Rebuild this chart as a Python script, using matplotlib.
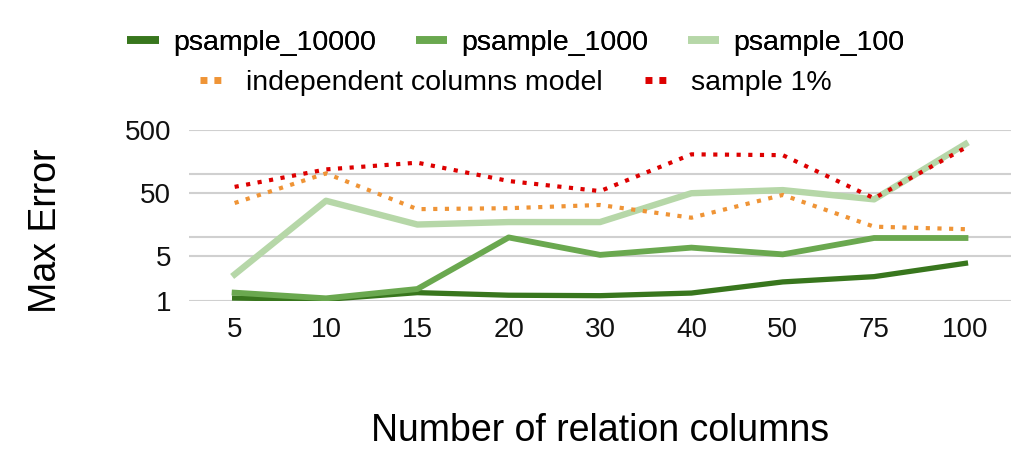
import matplotlib.pyplot as plt

plt.rcParams['font.family'] = ['Liberation Sans', 'DejaVu Sans']

# number of relation columns (categories on the x axis)
columns = ['5', '10', '15', '20', '30', '40', '50', '75', '100']

# max error per method
psample_10000 = [1.1, 1.05, 1.34, 1.22, 1.2, 1.32, 1.98, 2.4, 3.9]
psample_1000 = [1.34, 1.09, 1.53, 10, 5.3, 6.9, 5.4, 9.8, 9.8]
psample_100 = [2.6, 38, 16, 17.5, 17.5, 50, 56, 40, 300]
indep_cols = [35, 103, 28, 29, 32.6, 20.5, 47, 14.8, 13.5]
sample_1pct = [63, 119, 152, 78, 54, 206, 200, 41.6, 262]

y_ticks = [1, 5, 50, 500]
y_grid = [1, 5, 10, 50, 100, 500]

fig = plt.figure(figsize=(10.36, 4.73), dpi=100)
ax = fig.add_axes([0.1824, 0.3643, 0.7936, 0.3609])

x = range(len(columns))
ax.plot(x, psample_10000, color='#38761d', lw=3.8, label='psample_10000')
ax.plot(x, psample_1000, color='#6aa84f', lw=4.2, label='psample_1000')
ax.plot(x, psample_100, color='#b6d7a8', lw=4.6, label='psample_100')
ax.plot(x, indep_cols, color='#ef9436', lw=3.0, linestyle=(0, (1, 1.8)),
        dash_capstyle='butt', label='independent columns model')
ax.plot(x, sample_1pct, color='#dd0000', lw=3.0, linestyle=(0, (1, 1.8)),
        dash_capstyle='butt', label='sample 1%')

ax.set_yscale('log')
ax.set_ylim(1, 500)
ax.set_xlim(-0.5, len(columns) - 0.5)
ax.set_yticks(y_ticks)
ax.set_yticklabels([str(t) for t in y_ticks])
ax.minorticks_off()
ax.set_xticks(list(x))
ax.set_xticklabels(columns)
for g in y_grid:
    ax.axhline(g, color='#d0d0d0', lw=1.5, zorder=0)
for s in ax.spines.values():
    s.set_visible(False)
ax.tick_params(axis='both', length=0, labelsize=20, colors='#111111')
ax.tick_params(axis='x', pad=12)
ax.tick_params(axis='y', pad=13)

fig.text(0.044, 0.512, 'Max Error', rotation=90, fontsize=27,
         ha='center', va='center')
fig.text(0.579, 0.089, 'Number of relation columns', fontsize=27,
         ha='center', va='center')

handles, labels = ax.get_legend_handles_labels()
leg1 = fig.legend(handles[:3], labels[:3], loc='center', ncol=3,
                  bbox_to_anchor=(0.498, 0.909), frameon=False, fontsize=20.5,
                  handlelength=1.1, columnspacing=1.4, handletextpad=0.5,
                  borderpad=0, borderaxespad=0)
leg2 = fig.legend(handles[3:], labels[3:], loc='center', ncol=2,
                  bbox_to_anchor=(0.498, 0.825), frameon=False, fontsize=20.5,
                  handlelength=0.85, columnspacing=1.5, handletextpad=0.75,
                  borderpad=0, borderaxespad=0)
fig.add_artist(leg1)

# thicker, squarer legend keys like the original
for ln in leg1.get_lines():
    ln.set_linewidth(5.5)
    ln.set_solid_capstyle('butt')
for ln in leg2.get_lines():
    ln.set_linewidth(5)
    ln.set_dashes((1, 1))
    ln.set_dash_capstyle('butt')

fig.savefig('out.png', dpi=100)
